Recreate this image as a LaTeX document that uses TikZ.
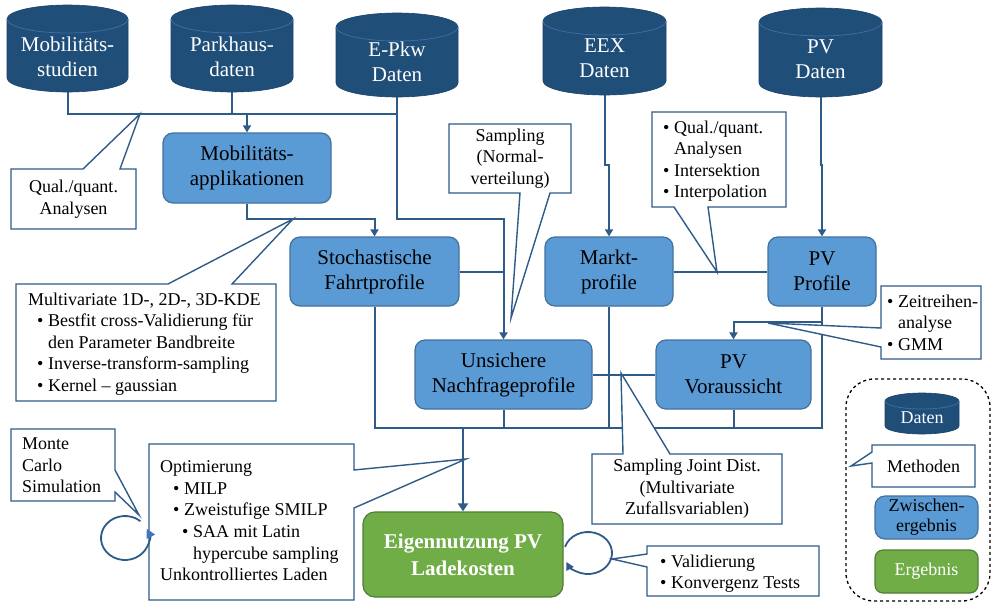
\documentclass[tikz,border=0pt]{standalone}
\usepackage{fontspec}
\setmainfont{Liberation Serif}
\usetikzlibrary{arrows.meta}
\definecolor{cylfill}{HTML}{1F4E79}
\definecolor{cylrim}{HTML}{3C6D9E}
\definecolor{boxfill}{HTML}{5B9BD5}
\definecolor{boxline}{HTML}{41719C}
\definecolor{grfill}{HTML}{70AD47}
\definecolor{grline}{HTML}{507E32}
\definecolor{conncol}{HTML}{2E5B88}
\definecolor{loopcol}{HTML}{4472C4}
\newcommand\bul{\makebox[11pt][l]{•}}
\pgfdeclarelayer{lines}
\pgfdeclarelayer{calls}
\pgfsetlayers{lines,calls,main}
% #1 name, #2 cx, #3 top, #4 bottom, #5 width, #6 ry, #7 text y, #8 text
\newcommand\dbcyl[8]{%
  \fill[cylfill, draw=cylfill!85!black, line width=0.6pt] ({#2-#5/2},{-#3-#6}) -- ({#2-#5/2},{-#4+#6})
    arc[start angle=180,end angle=360,x radius={#5/2},y radius=#6]
    -- ({#2+#5/2},{-#3-#6})
    arc[start angle=0,end angle=180,x radius={#5/2},y radius=#6] -- cycle;
  \draw[cylrim, line width=0.8pt] ({#2-#5/2},{-#3-#6}) arc[start angle=180,end angle=360,x radius={#5/2},y radius=#6];
  \node[inner sep=0, outer sep=0, minimum width=#5, minimum height={#4-#3}] (#1) at (#2,{-(#3+#4)/2}) {};
  \node[cyltext] (#1-t) at (#2,-#7) {#8};
}
\tikzset{
  conn/.style={draw=conncol, line width=2pt},
  arr/.style={conn, -{Triangle[width=8pt,length=7pt]}},
  thickarr/.style={draw=conncol, line width=2.8pt, -{Triangle[width=10pt,length=8pt]}},
  callout/.style={draw=conncol, fill=white, line width=1.4pt, line join=miter},
  cframe/.style={inner sep=0, outer sep=0, draw=none},
  ctext/.style={inner sep=0, font=\fontsize{18}{21.6}\selectfont, align=left},
  ctextc/.style={ctext, align=center},
  bluebox/.style={draw=boxline, fill=boxfill, line width=1.2pt, rounded corners=10pt, inner sep=0, align=center, font=\fontsize{21}{25}\selectfont},
  greenbox/.style={draw=grline, fill=grfill, line width=1.2pt, rounded corners=12pt, inner sep=0, align=center, text=white, font=\fontsize{21}{27}\selectfont\bfseries},
  cyltext/.style={text=white, align=center, inner sep=0, font=\fontsize{21}{25}\selectfont},
  loopline/.style={draw=conncol, line width=1.8pt},
}
\begin{document}
\begin{tikzpicture}[x=1pt,y=1pt]
\useasboundingbox (0,0) rectangle (993,-603);

% data cylinders
\dbcyl{mob}{67.5}{5}{92}{121}{14}{57}{Mobilitäts-\\studien}
\dbcyl{park}{232}{5}{92}{122}{14}{57}{Parkhaus-\\daten}
\dbcyl{epkw}{397}{13}{97}{122}{14}{62}{E-Pkw\\Daten}
\dbcyl{eex}{604.5}{7}{95}{123}{14}{58}{EEX\\Daten}
\dbcyl{pvd}{820.5}{8}{97}{123}{14}{59}{PV\\Daten}

% intermediate results
\node[bluebox, minimum width=168pt, minimum height=70pt] (mobapp) at (247,-168) {Mobilitäts-\\applikationen};
\node[bluebox, minimum width=169pt, minimum height=69pt] (stoch) at (374.5,-271.5) {Stochastische\\Fahrtprofile};
\node[bluebox, minimum width=128pt, minimum height=69pt] (markt) at (609,-271.5) {Markt-\\profile};
\node[bluebox, minimum width=108pt, minimum height=69pt] (pvprof) at (822,-271.5) {PV\\Profile};
\node[bluebox, minimum width=177pt, minimum height=69pt] (unsich) at (503.5,-374.5) {Unsichere\\Nachfrageprofile};
\node[bluebox, minimum width=155pt, minimum height=69pt] (pvvor) at (733.5,-374.5) {PV\\Voraussicht};
\node[greenbox, minimum width=200pt, minimum height=85pt] (eigen) at (463,-554.5) {Eigennutzung PV\\Ladekosten};

% connectors
\begin{pgfonlayer}{lines}
\coordinate (jTop) at (397,-114);
\coordinate (jE) at (503.5,-219);
\coordinate (jS) at (374.5,-219);
\coordinate (jP) at (733.5,-322);
\coordinate (busM) at (463,-428);
\draw[conn] (mob.south) |- (jTop);
\draw[conn] (park.south) -- (park.south |- jTop);
\draw[arr] (mobapp.north |- jTop) -- (mobapp.north);
\draw[arr] (epkw.south) |- (jE) -- (unsich.north);
\draw[arr] (mobapp.south) |- (jS) -- (stoch.north);
\draw[conn] (stoch.east) -- (stoch.east -| jE);
\draw[arr] (eex.south) -- ++(0,-70) -| (markt.north);
\draw[arr] (pvd.south) -- ++(0,-68) -| (pvprof.north);
\draw[conn] (markt.east) -- (pvprof.west);
\draw[arr] (pvprof.south) |- (jP) -- (pvvor.north);
\draw[conn] (unsich.east) -- (pvvor.west);
\draw[conn] (stoch.south) |- (pvprof.south |- busM) -- (pvprof.south);
\draw[conn] (unsich.south) -- (unsich.south |- busM);
\draw[conn] (markt.south) -- (markt.south |- busM);
\draw[conn] (pvvor.south) -- (pvvor.south |- busM);
\draw[conn, line width=2.8pt] (busM) -- (markt.south |- busM);
\draw[thickarr] (busM) -- (eigen.north);
\end{pgfonlayer}

% loops
\draw[loopline, -{Triangle[width=9pt,length=9pt,color=loopcol]}] ([shift={(50:24 and 22)}]125,-538) arc[start angle=50, end angle=385, x radius=24, y radius=22];
\draw[loopline, -{Triangle[width=8pt,length=8pt]}] ([shift={(163:24 and 21)}]588,-553) arc[start angle=163, end angle=-155, x radius=24, y radius=21];

% callouts
\node[cframe, minimum width=125pt, minimum height=60pt] (qa1) at (73.5,-199) {};
\node[cframe, minimum width=260pt, minimum height=117pt] (multi) at (146,-342.5) {};
\node[cframe, minimum width=122pt, minimum height=69pt] (samp) at (510,-158.5) {};
\node[cframe, minimum width=134pt, minimum height=95pt] (qa2) at (719,-159.5) {};
\node[cframe, minimum width=100pt, minimum height=73pt] (zeit) at (931,-322.5) {};
\node[cframe, minimum width=190pt, minimum height=70pt] (joint) at (687,-489) {};
\node[cframe, minimum width=205pt, minimum height=156pt] (opt) at (251.5,-522) {};
\node[cframe, minimum width=104pt, minimum height=72pt] (monte) at (63,-465) {};
\node[cframe, minimum width=172pt, minimum height=50pt] (valid) at (733,-571) {};
\node[cframe, minimum width=103pt, minimum height=42pt] (meth) at (923.5,-466) {};

\begin{pgfonlayer}{calls}
\draw[callout] (qa1.north west) -- (83,-169) -- (140,-114) -- (120,-169) -- (qa1.north east) -- (qa1.south east) -- (qa1.south west) -- cycle;
\draw[callout] (multi.north west) -- (168,-284) -- (293,-219) -- (232,-284) -- (multi.north east) -- (multi.south east) -- (multi.south west) -- cycle;
\draw[callout] (samp.north west) -- (samp.north east) -- (samp.south east) -- (550,-193) -- (511,-318) -- (520,-193) -- (samp.south west) -- cycle;
\draw[callout] (qa2.north west) -- (qa2.north east) -- (qa2.south east) -- (708,-207) -- (717,-272) -- (674,-207) -- (qa2.south west) -- cycle;
\draw[callout] (zeit.north west) -- (zeit.north east) -- (zeit.south east) -- (zeit.south west) -- (881,-347) -- (768,-323) -- (881,-328) -- cycle;
\draw[callout] (joint.north west) -- (623,-454) -- (621,-373) -- (670,-454) -- (joint.north east) -- (joint.south east) -- (joint.south west) -- cycle;
\draw[callout] (opt.north west) -- (opt.north east) -- (354,-470) -- (466,-459) -- (354,-508) -- (opt.south east) -- (opt.south west) -- cycle;
\draw[callout] (monte.north west) -- (monte.north east) -- (115,-470) -- (139,-515) -- (115,-492) -- (monte.south east) -- (monte.south west) -- cycle;
\draw[callout] (valid.north west) -- (valid.north east) -- (valid.south east) -- (valid.south west) -- (647,-567) -- (612,-559) -- (647,-554) -- cycle;
\draw[callout] (meth.north west) -- (meth.north east) -- (meth.south east) -- (meth.south west) -- (872,-463) -- (851,-466) -- (872,-452) -- cycle;
\end{pgfonlayer}

\node[ctextc] (qa1-t) at (qa1) {Qual./quant.\\Analysen};
\node[ctext, anchor=north west] (multi-t) at (28,-292.5) {Multivariate 1D-, 2D-, 3D-KDE\\\hspace*{9pt}\bul Bestfit cross-Validierung für\\\hspace*{20pt}den Parameter Bandbreite\\\hspace*{9pt}\bul Inverse-transform-sampling\\\hspace*{9pt}\bul Kernel – gaussian};
\node[ctextc] (samp-t) at (samp) {Sampling\\(Normal-\\verteilung)};
\node[ctext, anchor=north west] (qa2-t) at (663,-120.5) {\bul Qual./quant.\\\hspace*{11pt}Analysen\\\bul Intersektion\\\bul Interpolation};
\node[ctext, anchor=north west] (zeit-t) at (887,-294.5) {\bul Zeitreihen-\\\hspace*{11pt}analyse\\\bul GMM};
\node[ctextc] (joint-t) at (joint) {Sampling Joint Dist.\\(Multivariate\\Zufallsvariablen)};
\node[ctext, anchor=north west] (opt-t) at (160,-460.5) {Optimierung\\\hspace*{13pt}\bul MILP\\\hspace*{13pt}\bul Zweistufige SMILP\\\hspace*{22pt}\bul SAA mit Latin\\\hspace*{33pt}hypercube sampling\\Unkontrolliertes Laden};
\node[ctext, anchor=north west] (monte-t) at (22,-437.5) {Monte\\Carlo\\Simulation};
\node[ctext, anchor=north west] (valid-t) at (660,-554.5) {\bul Validierung\\\bul Konvergenz Tests};
\node[ctextc] (meth-t) at (meth) {Methoden};

% legend
\node[draw=black, dashed, line width=1.3pt, rounded corners=28pt, minimum width=144pt, minimum height=222pt, inner sep=0] (legend) at (918,-490) {};
\dbcyl{legcyl}{922}{393}{434}{74}{8}{418}{\fontsize{18}{20}\selectfont Daten}
\node[bluebox, minimum width=103pt, minimum height=43pt, font=\fontsize{18}{20}\selectfont] (legzw) at (926.5,-517.5) {Zwischen-\\ergebnis};
\node[greenbox, minimum width=103pt, minimum height=43pt, rounded corners=8pt, font=\fontsize{18}{20}\selectfont] (legerg) at (926.5,-571.5) {Ergebnis};
\end{tikzpicture}
\end{document}
